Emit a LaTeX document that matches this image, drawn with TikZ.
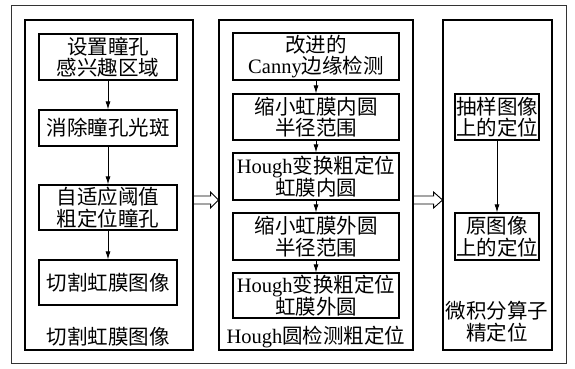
\documentclass[tikz,border=0pt]{standalone}
\usepackage{fontspec}
\setmainfont{Liberation Serif}
\newfontfamily\cjk{Noto Sans CJK SC}
\usetikzlibrary{arrows.meta}

\begin{document}
\begin{tikzpicture}[x=1pt, y=-1pt,
    box/.style={draw, line width=1.1pt, align=center, inner sep=0pt,
        font=\fontsize{20.5}{21.5}\selectfont\cjk},
    panel/.style={draw, line width=1.1pt, inner sep=0pt,
        minimum height=330pt},
    caption/.style={align=center, inner sep=0pt,
        font=\fontsize{20.5}{21.5}\selectfont\cjk},
    flow/.style={-{Latex[length=8pt,width=5pt]}, line width=0.9pt},
    pass/.style={line width=0.9pt, line join=miter}
]
        \useasboundingbox (0,0) rectangle (575,368);
        \draw[line width=0.8pt, black!80] (11,5) rectangle (566,363);

        % three panels
        \node[panel, minimum width=168pt] (cut) at (109,185) {};
        \node[panel, minimum width=194pt] (hough) at (316,185) {};
        \node[panel, minimum width=109pt] (fine) at (497.5,185) {};

        % left panel
        \begin{scope}[every node/.append style={box, minimum width=138pt}]
            \node[minimum height=46pt] (c1) at (108,57) {设置瞳孔\\感兴趣区域};
            \node[minimum height=36pt] (c2) at (108,128) {消除瞳孔光斑};
            \node[minimum height=45pt] (c3) at (108,207.5) {自适应阈值\\粗定位瞳孔};
            \node[minimum height=45pt] (c4) at (108,282.5) {切割虹膜图像};
        \end{scope}
        \node[caption] (cutlabel) at (108,337) {切割虹膜图像};

        % middle panel
        \begin{scope}[every node/.append style={box, minimum width=166pt}]
            \node[minimum height=47pt] (h1) at (316,56.5) {改进的\\{\rmfamily Canny}边缘检测};
            \node[minimum height=46pt] (h2) at (316,117) {缩小虹膜内圆\\半径范围};
            \node[minimum height=47pt] (h3) at (316,176.5) {{\rmfamily Hough}变换粗定位\\虹膜内圆};
            \node[minimum height=47pt] (h4) at (316,236.5) {缩小虹膜外圆\\半径范围};
            \node[minimum height=45pt] (h5) at (316,295.5) {{\rmfamily Hough}变换粗定位\\虹膜外圆};
        \end{scope}
        \node[caption] (houghlabel) at (316,337) {{\rmfamily Hough}圆检测粗定位};

        % right panel
        \begin{scope}[every node/.append style={box, minimum width=84pt}]
            \node[minimum height=46pt] (f1) at (497,117) {抽样图像\\上的定位};
            \node[minimum height=47pt] (f2) at (497,236.5) {原图像\\上的定位};
        \end{scope}
        \node[caption] (finelabel) at (497,321.5) {微积分算子\\精定位};

        \foreach \a/\b in {c1/c2, c2/c3, c3/c4, h1/h2, h2/h3, h3/h4, h4/h5, f1/f2} {
            \draw[flow] (\a) -- (\b);
        }

        % hollow arrows between the panels
        \draw[pass] ([yshift=-11pt]cut.east) -- ++(17,0) -- ++(0,-4) -- ++(8,8)
            -- ++(-8,8) -- ++(0,-4) -- ++(-17,0);
        \draw[pass] ([yshift=-11pt]hough.east) -- ++(20,0) -- ++(0,-4) -- ++(9,8)
            -- ++(-9,8) -- ++(0,-4) -- ++(-20,0);
    \end{tikzpicture}
\end{document}
